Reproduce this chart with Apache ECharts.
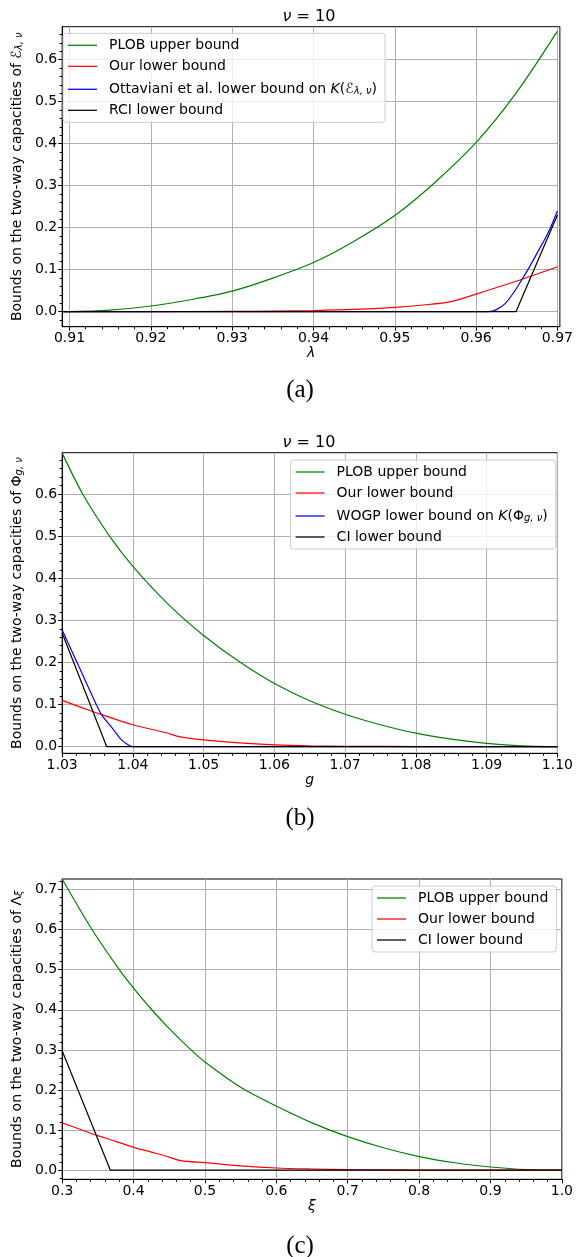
<!DOCTYPE html>
<html><head><meta charset="utf-8">
<script src="https://cdn.jsdelivr.net/npm/echarts@6/dist/echarts.min.js"></script>
<style>html,body{margin:0;padding:0;background:#fff}#c{width:576px;height:1257px}</style>
</head><body><div id="c"></div><script>
// ---------- Data ----------
// Panel (a): x = lambda
const aPlobX = [0.9091, 0.915, 0.92, 0.925, 0.93, 0.935, 0.94, 0.945, 0.95, 0.955, 0.96, 0.965, 0.97];
const aPlobY = [0.0, 0.004, 0.0136, 0.029, 0.049, 0.080, 0.117, 0.168, 0.229, 0.309, 0.403, 0.523, 0.668];
const aOurX = [0.9091, 0.92, 0.93, 0.935, 0.94, 0.945, 0.95, 0.9535, 0.9569, 0.96, 0.965, 0.97];
const aOurY = [0.0, 0.0002, 0.0008, 0.0015, 0.0028, 0.0055, 0.0105, 0.016, 0.024, 0.042, 0.073, 0.107];
const aOttX = [0.9091, 0.9615, 0.9625, 0.9636, 0.9646, 0.9656, 0.9666, 0.9676, 0.9689, 0.97];
const aOttY = [0.0, 0.0, 0.005, 0.020, 0.045, 0.0755, 0.108, 0.143, 0.19, 0.240];
const aRciX = [0.9091, 0.9649, 0.97];
const aRciY = [0.0, 0.0, 0.230];
// Panel (b): x = g
const bPlobX = [1.03, 1.0329, 1.0367, 1.04, 1.045, 1.05, 1.055, 1.06, 1.065, 1.07, 1.075, 1.08, 1.085, 1.09, 1.095, 1.10];
const bPlobY = [0.697, 0.60, 0.50, 0.428, 0.338, 0.264, 0.202, 0.150, 0.109, 0.077, 0.052, 0.032, 0.018, 0.008, 0.002, 0.0];
const bOurX = [1.03, 1.0342, 1.0356, 1.04, 1.0447, 1.0465, 1.05, 1.055, 1.06, 1.065, 1.07, 1.08, 1.09, 1.10];
const bOurY = [0.110, 0.084, 0.076, 0.052, 0.033, 0.024, 0.016, 0.009, 0.0045, 0.002, 0.001, 0.0002, 0.0, 0.0];
const bWogpX = [1.03, 1.0324, 1.0348, 1.0356, 1.037, 1.0384, 1.0392, 1.040, 1.10];
const bWogpY = [0.277, 0.189, 0.101, 0.075, 0.046, 0.016, 0.006, 0.0, 0.0];
const bCiX = [1.03, 1.0363, 1.10];
const bCiY = [0.27, 0.0, 0.0];
// Panel (c): x = xi
const cPlobX = [0.3, 0.3418, 0.38, 0.4, 0.4255, 0.45, 0.4794, 0.5, 0.55, 0.6, 0.65, 0.7, 0.75, 0.8, 0.85, 0.9, 0.95, 1.0];
const cPlobY = [0.726, 0.60, 0.50, 0.454, 0.40, 0.353, 0.302, 0.270, 0.207, 0.160, 0.118, 0.0836, 0.056, 0.034, 0.0185, 0.008, 0.0015, 0.0];
const cOurX = [0.3, 0.325, 0.347, 0.375, 0.4, 0.425, 0.4438, 0.466, 0.5, 0.55, 0.6, 0.65, 0.7, 0.8, 0.9, 1.0];
const cOurY = [0.118, 0.102, 0.088, 0.072, 0.057, 0.045, 0.036, 0.024, 0.019, 0.011, 0.0055, 0.003, 0.0015, 0.0004, 0.0001, 0.0];
const cCiX = [0.3, 0.3675, 1.0];
const cCiY = [0.298, 0.0, 0.0];

// Tick labels
const aXTicks = [0.91, 0.92, 0.93, 0.94, 0.95, 0.96, 0.97];
const aYTicks = [0.0, 0.1, 0.2, 0.3, 0.4, 0.5, 0.6];
const bXTicks = [1.03, 1.04, 1.05, 1.06, 1.07, 1.08, 1.09, 1.10];
const bYTicks = [0.0, 0.1, 0.2, 0.3, 0.4, 0.5, 0.6];
const cXTicks = [0.3, 0.4, 0.5, 0.6, 0.7, 0.8, 0.9, 1.0];
const cYTicks = [0.0, 0.1, 0.2, 0.3, 0.4, 0.5, 0.6, 0.7];

// ---------- Layout ----------
const FONT = "'DejaVu Sans', 'Noto Sans', sans-serif";
const panels = [
  {top: 26.7, height: 300, xr: [0.9091, 0.9703], yr: [-0.0357, 0.6786], xt: aXTicks, yt: aYTicks, xd: 2, xminor: 0.002,
   xname: '{it|λ}', yname: 'Bounds on the two-way capacities of {n|ℰ}{sub|λ, ν}'},
  {top: 452.7, height: 300.6, xr: [1.03, 1.10], yr: [-0.0157, 0.698], xt: bXTicks, yt: bYTicks, xd: 2, xminor: 0.002,
   xname: '{it|g}', yname: 'Bounds on the two-way capacities of {n|Φ}{sub|g, ν}'},
  {top: 879, height: 300.3, xr: [0.3, 1.0], yr: [-0.0227, 0.726], xt: cXTicks, yt: cYTicks, xd: 1, xminor: 0.02,
   xname: '{it|ξ}', yname: 'Bounds on the two-way capacities of {n|Λ}{sub|ξ}'}
];
const rich = {
  n: {fontFamily: FONT, fontSize: 14, color: '#000'},
  it: {fontFamily: FONT, fontSize: 14, fontStyle: 'italic', color: '#000'},
  sub: {fontFamily: FONT, fontSize: 10, fontStyle: 'italic', color: '#000', verticalAlign: 'bottom', lineHeight: 12, padding: [6, 0, 0, 0]},
  g: {width: 7}
};

function minorTicks(r, step, majors) {
  const out = [];
  const k0 = Math.ceil(r[0] / step - 1e-9), k1 = Math.floor(r[1] / step + 1e-9);
  for (let k = k0; k <= k1; k++) {
    const v = +(k * step).toFixed(6);
    if (!majors.some(m => Math.abs(m - v) < step / 10)) out.push(v);
  }
  return out;
}
function zip(xs, ys) { return xs.map((x, i) => [x, ys[i]]); }

const grids = [], xAxes = [], yAxes = [];
panels.forEach((p, i) => {
  grids.push({left: 56, top: p.top, width: 506.3, height: p.height, show: true, borderColor: '#000', borderWidth: 1, backgroundColor: 'transparent'});
  xAxes.push({
    gridIndex: i, type: 'value', min: p.xr[0], max: p.xr[1], position: 'bottom',
    axisLine: {show: true, onZero: false, lineStyle: {color: '#000', width: 1}},
    axisTick: {show: true, length: 4, lineStyle: {color: '#000', width: 1}, customValues: p.xt},
    axisLabel: {customValues: p.xt, formatter: v => (+v).toFixed(p.xd), fontFamily: FONT, fontSize: 14, color: '#000', margin: 5, showMinLabel: true, showMaxLabel: true, hideOverlap: false},
    splitLine: {show: true, lineStyle: {color: '#b0b0b0', width: 1}},
    name: p.xname, nameLocation: 'middle', nameGap: 19,
    nameTextStyle: {fontFamily: FONT, fontSize: 14, color: '#000', rich: rich}
  });
  xAxes.push({
    gridIndex: i, type: 'value', min: p.xr[0], max: p.xr[1], position: 'bottom',
    axisLine: {show: false, onZero: false}, axisLabel: {show: false}, splitLine: {show: false},
    axisTick: {show: true, length: 2.5, lineStyle: {color: '#000', width: 1}, customValues: minorTicks(p.xr, p.xminor, p.xt)}
  });
  yAxes.push({
    gridIndex: i, type: 'value', min: p.yr[0], max: p.yr[1], position: 'left',
    axisLine: {show: true, onZero: false, lineStyle: {color: '#000', width: 1}},
    axisTick: {show: true, length: 4, lineStyle: {color: '#000', width: 1}, customValues: p.yt},
    axisLabel: {customValues: p.yt, formatter: v => (+v).toFixed(1), fontFamily: FONT, fontSize: 14, color: '#000', margin: 5, hideOverlap: false},
    splitLine: {show: true, lineStyle: {color: '#b0b0b0', width: 1}},
    name: p.yname, nameLocation: 'middle', nameRotate: 90, nameGap: 31,
    nameTextStyle: {fontFamily: FONT, fontSize: 14, color: '#000', rich: rich}
  });
  yAxes.push({
    gridIndex: i, type: 'value', min: p.yr[0], max: p.yr[1], position: 'left',
    axisLine: {show: false, onZero: false}, axisLabel: {show: false}, splitLine: {show: false},
    axisTick: {show: true, length: 2.5, lineStyle: {color: '#000', width: 1}, customValues: minorTicks(p.yr, 0.02, p.yt)}
  });
});

function line(name, gi, xs, ys, color, smooth) {
  return {
    name: name, type: 'line', xAxisIndex: gi * 2, yAxisIndex: gi * 2, data: zip(xs, ys),
    symbol: 'none', showSymbol: false, smooth: smooth ? 0.3 : false,
    lineStyle: {color: color, width: 1.2}, itemStyle: {color: color}, animation: false, silent: true
  };
}
const GREEN = '#008000', RED = '#ff0000', BLUE = '#0000ff', BLACK = '#000000';
const series = [
  line('PLOB upper bound', 0, aPlobX, aPlobY, GREEN, true),
  line('Our lower bound', 0, aOurX, aOurY, RED, true),
  line('Ottaviani', 0, aOttX, aOttY, BLUE, true),
  line('RCI lower bound', 0, aRciX, aRciY, BLACK, false),
  line('PLOB upper bound', 1, bPlobX, bPlobY, GREEN, true),
  line('Our lower bound', 1, bOurX, bOurY, RED, true),
  line('WOGP', 1, bWogpX, bWogpY, BLUE, true),
  line('CI lower bound', 1, bCiX, bCiY, BLACK, false),
  line('PLOB upper bound', 2, cPlobX, cPlobY, GREEN, true),
  line('Our lower bound', 2, cOurX, cOurY, RED, true),
  line('CI lower bound', 2, cCiX, cCiY, BLACK, false)
];
const legendText = {
  'Ottaviani': 'Ottaviani et al. lower bound on {it|K}(ℰ{sub|λ, ν})',
  'WOGP': 'WOGP lower bound on {it|K}(Φ{sub|g, ν})'
};
function legend(left, top, names) {
  return {
    orient: 'vertical', left: left, top: top, data: names, selectedMode: false,
    icon: 'path://M0,0H30V1.3H0Z', symbolKeepAspect: true,
    itemWidth: 29, itemHeight: 14, itemGap: 7, padding: [5, 8, 5, 5],
    backgroundColor: 'rgba(255,255,255,0.8)', borderColor: '#cccccc', borderWidth: 1, borderRadius: 3,
    textStyle: {fontFamily: FONT, fontSize: 14, color: '#000', rich: rich},
    formatter: n => '{g|}' + (legendText[n] || n)
  };
}
const legends = [
  legend(63, 33.3, ['PLOB upper bound', 'Our lower bound', 'Ottaviani', 'RCI lower bound']),
  legend(290.6, 460, ['PLOB upper bound', 'Our lower bound', 'WOGP', 'CI lower bound']),
  legend(372, 886, ['PLOB upper bound', 'Our lower bound', 'CI lower bound'])
];

function txt(x, y, text, font, size) {
  return {type: 'text', x: x, y: y, silent: true,
    style: {text: text, fontFamily: font, fontSize: size, fill: '#000', align: 'center', verticalAlign: 'middle',
      rich: {it: {fontFamily: font, fontSize: size, fontStyle: 'italic', fill: '#000'}}}};
}
const SERIF = "'Liberation Serif', 'DejaVu Serif', serif";
const graphics = [
  txt(309, 17, '{it|ν} = 10', FONT, 16),
  txt(309, 443, '{it|ν} = 10', FONT, 16),
  txt(300, 390, '(a)', SERIF, 25),
  txt(300, 818, '(b)', SERIF, 25),
  txt(300, 1246, '(c)', SERIF, 25)
];

const chart = echarts.init(document.getElementById('c'), null, {renderer: 'canvas'});
chart.setOption({
  animation: false, backgroundColor: '#fff',
  grid: grids, xAxis: xAxes, yAxis: yAxes, series: series, legend: legends, graphic: graphics
});
</script></body></html>
